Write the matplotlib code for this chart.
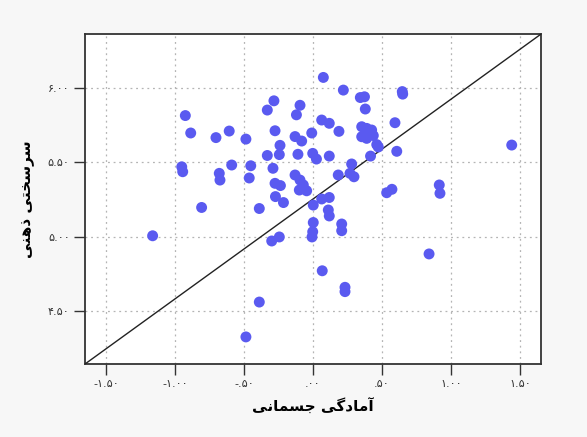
import numpy as np
import matplotlib
matplotlib.use("Agg")
import matplotlib.pyplot as plt

# ── Datos ──────────────────────────────────────────────────────────────────
fitness = [0.075, 0.220, 0.343, 0.373, 0.379, 0.647, 0.650, -0.283, -0.331, -0.094,
           -0.120, -0.925, -0.886, -0.703, -0.607, -0.486, -0.275, 0.063, 0.118, -0.009,
           -0.130, -0.082, -0.239, -0.244, -0.331, -0.109, -0.002, 0.025, 0.118, 0.188,
           0.594, 0.353, 0.389, 0.425, 0.353, 0.389, 0.437, 0.462, 0.473, 0.607,
           0.417, 0.280, -0.951, -0.944, -0.679, -0.674, -0.589, -0.451, -0.462, -0.290,
           -0.130, -0.094, -0.070, -0.046, -0.099, -0.275, -0.236, -0.272, -0.214, -0.807,
           -0.389, 0.002, 0.063, 0.118, 0.111, 0.118, 0.002, -0.002, -0.007, 0.183,
           0.297, 0.268, 0.208, 0.208, 0.534, 0.572, 0.915, 0.920, 1.440, -1.162,
           -0.299, -0.244, 0.067, 0.232, 0.232, 0.841, -0.389, -0.486]
toughness = [6.070, 5.985, 5.935, 5.940, 5.858, 5.975, 5.958, 5.913, 5.851, 5.883,
             5.819, 5.814, 5.697, 5.666, 5.710, 5.656, 5.712, 5.784, 5.762, 5.697,
             5.673, 5.643, 5.614, 5.552, 5.546, 5.554, 5.560, 5.522, 5.542, 5.708,
             5.766, 5.739, 5.728, 5.717, 5.672, 5.661, 5.680, 5.619, 5.603, 5.574,
             5.542, 5.489, 5.470, 5.437, 5.426, 5.381, 5.482, 5.477, 5.395, 5.460,
             5.415, 5.381, 5.348, 5.309, 5.314, 5.359, 5.344, 5.270, 5.230, 5.197,
             5.190, 5.213, 5.254, 5.264, 5.180, 5.140, 5.096, 5.034, 4.999, 5.415,
             5.403, 5.426, 5.086, 5.041, 5.296, 5.319, 5.348, 5.292, 5.616, 5.007,
             4.972, 4.999, 4.772, 4.661, 4.632, 4.885, 4.562, 4.328]

x_ticks = [-1.5, -1.0, -0.5, 0.0, 0.5, 1.0, 1.5]
x_tick_labels = ["-\u06f1.\u06f5\u06f0", "-\u06f1.\u06f0\u06f0", "-.\u06f5\u06f0",
                 ".\u06f0\u06f0", ".\u06f5\u06f0", "\u06f1.\u06f0\u06f0", "\u06f1.\u06f5\u06f0"]
y_ticks = [4.5, 5.0, 5.5, 6.0]
y_tick_labels = ["\u06f4.\u06f5\u06f0", "\u06f5.\u06f0\u06f0", "\u06f5.\u06f5\u06f0", "\u06f6.\u06f0\u06f0"]

# Etiquetas en formas de presentación árabes, en orden visual (matplotlib no hace bidi)
# "آمادگی جسمانی"
x_label = "\ufbfd\ufee7\ufe8e\ufee4\ufeb4\ufe9f \ufbfd\ufb94\ufea9\ufe8e\ufee3\ufe81"
# "سرسختی ذهنی"
y_label = "\ufbfd\ufee8\ufeeb\ufeab \ufbfd\ufe98\ufea8\ufeb3\ufeae\ufeb3"

# ── Figura ─────────────────────────────────────────────────────────────────
plt.rcParams['font.family'] = ['DejaVu Sans']
fig = plt.figure(figsize=(5.87, 4.37), dpi=100, facecolor='#f7f7f7')
ax = fig.add_axes([0.1448, 0.167, 0.7768, 0.755])
ax.set_facecolor('white')

ax.set_xlim(-1.652, 1.652)
ax.set_ylim(4.146, 6.361)

ax.grid(True, linestyle=(0, (1.5, 3)), color='#b4b4b4', linewidth=0.9)
ax.set_axisbelow(True)

ax.plot([0, 1], [0, 1], transform=ax.transAxes, color='#222222', lw=1.0, zorder=3)
ax.scatter(fitness, toughness, s=62, color='#5a5af0', edgecolors='none', zorder=4)

ax.set_xticks(x_ticks)
ax.set_xticklabels(x_tick_labels, fontsize=8, color='#333333')
ax.set_yticks(y_ticks)
ax.set_yticklabels(y_tick_labels, fontsize=8, color='#333333')
ax.tick_params(direction='out', length=8, width=1.0, color='#333333', pad=3)

for sp in ax.spines.values():
    sp.set_color('#333333')
    sp.set_linewidth(1.3)

ax.set_xlabel(x_label, fontsize=11, fontweight='bold', labelpad=7)
ax.set_ylabel(y_label, fontsize=11, fontweight='bold', labelpad=9)

plt.savefig('out.png', dpi=100, facecolor=fig.get_facecolor())
